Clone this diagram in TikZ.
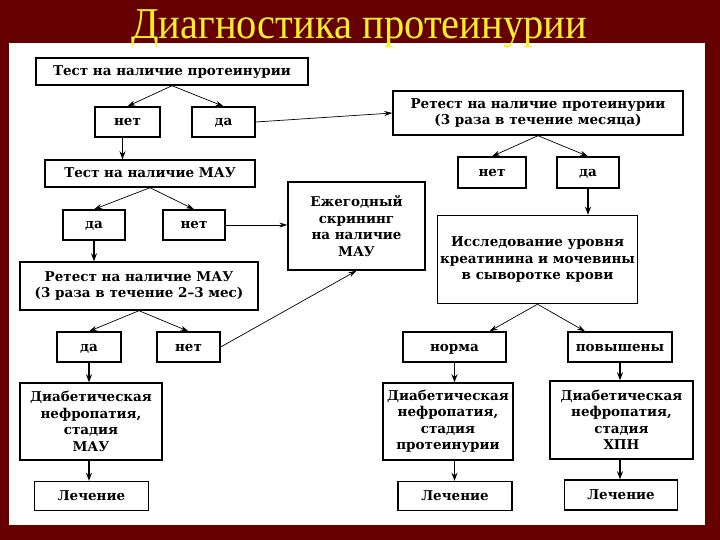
\documentclass[tikz,border=0pt]{standalone}
\usepackage{fontspec}
\setmainfont{Liberation Serif}
\newfontfamily\boxfont{DejaVu Serif}
\newfontfamily\titlefont[FakeStretch=0.92]{Liberation Serif}
\usetikzlibrary{arrows.meta}
\definecolor{maroon}{RGB}{102,0,0}
\definecolor{titleyellow}{RGB}{250,240,40}
\tikzset{
  bx/.style={draw=black, line width=1.4pt, fill=white, inner sep=0pt, align=center,
    font=\boxfont\bfseries\fontsize{13.5}{16.5}\selectfont},
  one/.style={text height=10pt, text depth=2pt},
  arr/.style={-{Stealth[length=8pt,width=5pt]}, line width=0.7pt},
  varr/.style={-{Stealth[length=8pt,width=6pt]}, line width=1.5pt}
}
\begin{document}
\begin{tikzpicture}[x=1pt,y=-1pt]
\useasboundingbox (0,0) rectangle (720,540);
\fill[maroon] (0,0) rectangle (720,540);
\fill[white] (9,43) rectangle (705,525);
\node[anchor=base, text=titleyellow, font=\titlefont\fontsize{44}{48}\selectfont] (title) at (359,39) {Диагностика протеинурии};

% left column
\node[bx, one, minimum width=272pt, minimum height=27pt] (A) at (172,71.5) {Тест на наличие протеинурии};
\node[bx, one, minimum width=65pt, minimum height=30pt] (B1) at (127.5,122) {нет};
\node[bx, one, minimum width=63pt, minimum height=30pt] (B2) at (223.5,122) {да};
\node[bx, one, minimum width=210pt, minimum height=27pt] (M) at (150,173.5) {Тест на наличие МАУ};
\node[bx, one, minimum width=62pt, minimum height=30pt] (M1) at (94,225) {да};
\node[bx, one, minimum width=62pt, minimum height=30pt] (M2) at (194,225) {нет};
\node[bx, minimum width=137pt, minimum height=88pt] (E) at (356.5,226) {Ежегодный\\скрининг\\на наличие\\МАУ};
\node[bx, minimum width=238pt, minimum height=48pt] (RM) at (139,286) {Ретест на наличие МАУ\\(3 раза в течение 2–3 мес)};
\node[bx, one, minimum width=64pt, minimum height=30pt] (D1) at (89,347) {да};
\node[bx, one, minimum width=63pt, minimum height=30pt] (D2) at (188.5,347) {нет};
\node[bx, minimum width=142pt, minimum height=77pt] (DM) at (91,421.5) {Диабетическая\\нефропатия,\\стадия\\МАУ};
\node[bx, one, minimum width=114pt, minimum height=29pt] (L1) at (91.5,496) {Лечение};

% right column
\node[bx, minimum width=290pt, minimum height=44pt] (R) at (538,113) {Ретест на наличие протеинурии\\(3 раза в течение месяца)};
\node[bx, one, minimum width=68pt, minimum height=31pt] (R1) at (492,172.5) {нет};
\node[bx, one, minimum width=62pt, minimum height=31pt] (R2) at (588,172.5) {да};
\node[bx, minimum width=200pt, minimum height=88pt] (I) at (537.5,259.5) {Исследование уровня\\креатинина и мочевины\\в сыворотке крови};
\node[bx, one, minimum width=103pt, minimum height=30pt] (N) at (454.5,347) {норма};
\node[bx, one, minimum width=104pt, minimum height=30pt] (P) at (620,347) {повышены};
\node[bx, minimum width=130pt, minimum height=77pt] (DP) at (448,421.5) {Диабетическая\\нефропатия,\\стадия\\протеинурии};
\node[bx, minimum width=143pt, minimum height=78pt] (DX) at (621.5,420) {Диабетическая\\нефропатия,\\стадия\\ХПН};
\node[bx, one, minimum width=114pt, minimum height=29pt] (L2) at (455,496) {Лечение};
\node[bx, one, minimum width=113pt, minimum height=30pt] (L3) at (621,495) {Лечение};

% connectors
\draw[arr] (A.south) -- (B1.north);
\draw[arr] (A.south) -- (B2.north);
\draw[arr] (B2.east) -- (R.west);
\draw[varr] ([xshift=-5pt]B1.south) -- ([xshift=-5pt]B1.south |- M.north);
\draw[arr] (M.south) -- (M1.north);
\draw[arr] (M.south) -- (M2.north);
\draw[arr] (M2.east) -- (M2.east -| E.west);
\draw[varr] (M1.south) -- (M1.south |- RM.north);
\draw[arr] (RM.south) -- (D1.north);
\draw[arr] (RM.south) -- (D2.north);
\draw[arr] (D2.east) -- (E.south);
\draw[varr] (D1.south) -- (D1.south |- DM.north);
\draw[varr] (DM.south -| D1.south) -- (L1.north -| D1.south);

\draw[arr] (R.south) -- (R1.north);
\draw[arr] (R.south) -- (R2.north);
\draw[varr] (R2.south) -- (R2.south |- I.north);
\draw[arr] (I.south) -- ([xshift=35pt]N.north);
\draw[arr] (I.south) -- ([xshift=-35pt]P.north);
\draw[varr] (N.south) -- (N.south |- DP.north);
\draw[varr] (DP.south -| N.south) -- (L2.north -| N.south);
\draw[varr] (P.south) -- (P.south |- DX.north);
\draw[varr] (DX.south -| P.south) -- (L3.north -| P.south);
\end{tikzpicture}
\end{document}
